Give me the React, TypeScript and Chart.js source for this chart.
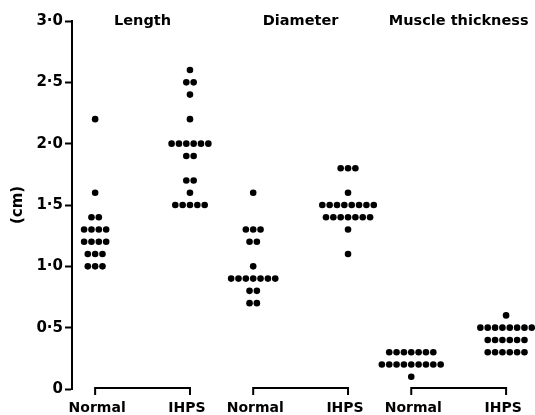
import React, { useEffect, useRef } from 'react';
import { Chart, registerables } from 'chart.js';

Chart.register(...registerables);

// ---- Data ----
const groupTitles = ['Length', 'Diameter', 'Muscle thickness'];
const groupLabels = ['Normal', 'IHPS'];
const yTitle = '(cm)';
const yMin = 0;
const yMax = 3;
const yStep = 0.5;

const normalLength = [2.2, 1.6, 1.4, 1.4, 1.3, 1.3, 1.3, 1.3, 1.2, 1.2, 1.2, 1.2, 1.1, 1.1, 1.1, 1.0, 1.0, 1.0];
const ihpsLength = [2.6, 2.5, 2.5, 2.4, 2.2, 2.0, 2.0, 2.0, 2.0, 2.0, 2.0, 1.9, 1.9, 1.7, 1.7, 1.6, 1.5, 1.5, 1.5, 1.5, 1.5];
const normalDiameter = [1.6, 1.3, 1.3, 1.3, 1.2, 1.2, 1.0, 0.9, 0.9, 0.9, 0.9, 0.9, 0.9, 0.9, 0.8, 0.8, 0.7, 0.7];
const ihpsDiameter = [1.8, 1.8, 1.8, 1.6, 1.5, 1.5, 1.5, 1.5, 1.5, 1.5, 1.5, 1.5, 1.4, 1.4, 1.4, 1.4, 1.4, 1.4, 1.4, 1.3, 1.1];
const normalMuscle = [0.3, 0.3, 0.3, 0.3, 0.3, 0.3, 0.3, 0.2, 0.2, 0.2, 0.2, 0.2, 0.2, 0.2, 0.2, 0.2, 0.1];
const ihpsMuscle = [0.6, 0.5, 0.5, 0.5, 0.5, 0.5, 0.5, 0.5, 0.5, 0.4, 0.4, 0.4, 0.4, 0.4, 0.4, 0.3, 0.3, 0.3, 0.3, 0.3, 0.3];

const series = [normalLength, ihpsLength, normalDiameter, ihpsDiameter, normalMuscle, ihpsMuscle];
// x position of each column (Normal, IHPS per measurement)
const seriesPositions = [1, 4, 6, 9, 11, 14];

// ---- Style ----
const DOT_STEP = 0.2325; // horizontal spacing of side-by-side dots (x units)
const X_MIN = 0.268;
const X_MAX = 14.81;
const FONT = '"DejaVu Sans", sans-serif';

function swarm(values: number[], pos: number) {
  const counts = new Map<string, number>();
  values.forEach((v) => {
    const k = v.toFixed(1);
    counts.set(k, (counts.get(k) || 0) + 1);
  });
  const seen = new Map<string, number>();
  return values.map((v) => {
    const k = v.toFixed(1);
    const n = counts.get(k) || 1;
    const i = seen.get(k) || 0;
    seen.set(k, i + 1);
    return { x: pos + (i - (n - 1) / 2) * DOT_STEP, y: v };
  });
}

const annotatePlugin = {
  id: 'annotate',
  afterDraw(chart: any) {
    const { ctx, scales } = chart;
    const xs = scales.x;
    const ys = scales.y;
    const y0 = ys.getPixelForValue(0);
    ctx.save();
    ctx.fillStyle = '#000';
    ctx.strokeStyle = '#000';
    ctx.lineWidth = 2;
    for (let g = 0; g < groupTitles.length; g++) {
      const xa = xs.getPixelForValue(seriesPositions[2 * g]);
      const xb = xs.getPixelForValue(seriesPositions[2 * g + 1]);
      // bracket
      ctx.beginPath();
      ctx.moveTo(xa, y0 + 6);
      ctx.lineTo(xa, y0 - 1);
      ctx.lineTo(xb, y0 - 1);
      ctx.lineTo(xb, y0 + 6);
      ctx.stroke();
      // labels
      ctx.font = `bold 14px ${FONT}`;
      ctx.textAlign = 'center';
      ctx.textBaseline = 'alphabetic';
      ctx.fillText(groupLabels[0], xa + 2, y0 + 23);
      ctx.fillText(groupLabels[1], xb - 3, y0 + 23);
      // title
      ctx.font = `bold 14.5px ${FONT}`;
      ctx.fillText(groupTitles[g], (xa + xb) / 2, 25);
    }
    ctx.restore();
  },
};

export default function App() {
  const ref = useRef<HTMLCanvasElement>(null);
  useEffect(() => {
    if (!ref.current) return;
    const chart = new Chart(ref.current, {
      type: 'scatter',
      data: {
        datasets: series.map((vals, i) => ({
          data: swarm(vals, seriesPositions[i]),
          pointRadius: 3.3,
          pointHoverRadius: 3.3,
          pointBackgroundColor: '#000',
          pointBorderWidth: 0,
          borderColor: '#000',
          clip: false as any,
        })),
      },
      options: {
        animation: false,
        responsive: false,
        events: [],
        layout: { padding: { top: 21, bottom: 26, left: 0, right: 0 } },
        plugins: { legend: { display: false }, tooltip: { enabled: false } },
        scales: {
          x: { type: 'linear', display: false, min: X_MIN, max: X_MAX },
          y: {
            type: 'linear',
            min: yMin,
            max: yMax,
            afterFit: (scale: any) => {
              scale.width = 72;
            },
            border: { display: true, color: '#000', width: 2 },
            grid: {
              drawOnChartArea: false,
              drawTicks: true,
              tickLength: 7,
              tickColor: '#000',
              tickWidth: 2,
            },
            ticks: {
              stepSize: yStep,
              padding: 2,
              color: '#000',
              font: { family: FONT, weight: 'bold', size: 15 },
              callback: (v: any) => (Number(v) === 0 ? '0' : Number(v).toFixed(1).replace('.', '·')),
            },
            title: {
              display: true,
              text: yTitle,
              color: '#000',
              padding: { top: 9, bottom: 0 },
              font: { family: FONT, weight: 'bold', size: 15 },
            },
          },
        },
      },
      plugins: [annotatePlugin],
    });
    return () => chart.destroy();
  }, []);
  return (
    <div style={{ position: 'absolute', left: 0, top: 0, width: 535, height: 415, background: '#fff' }}>
      <canvas ref={ref} width={535} height={415} style={{ display: 'block' }} />
    </div>
  );
}
